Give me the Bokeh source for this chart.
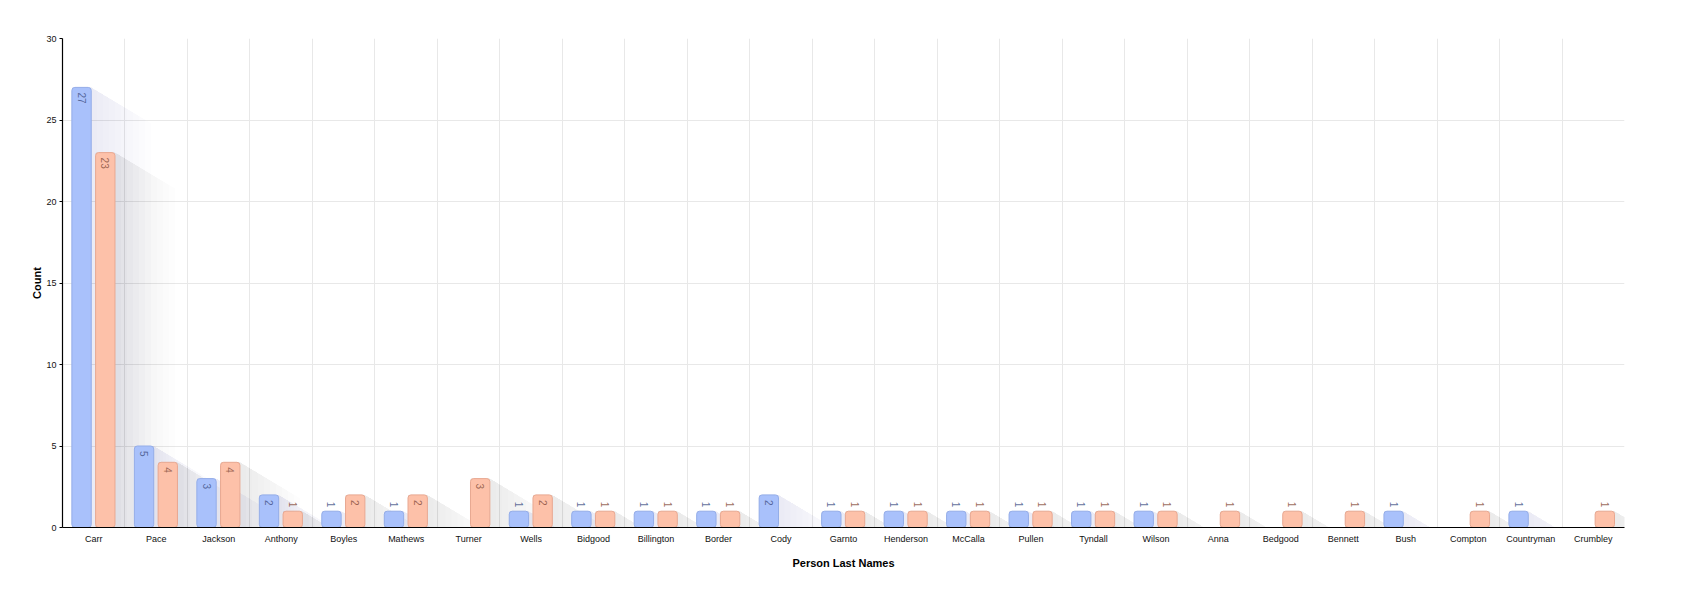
import numpy as np
from bokeh.plotting import figure
from bokeh.models import ColumnDataSource, FixedTicker, Range1d
from bokeh.core.properties import value
from bokeh.embed import file_html
from bokeh.resources import INLINE

names = ["Carr", "Pace", "Jackson", "Anthony", "Boyles", "Mathews", "Turner", "Wells",
         "Bidgood", "Billington", "Border", "Cody", "Garnto", "Henderson", "McCalla",
         "Pullen", "Tyndall", "Wilson", "Anna", "Bedgood", "Bennett", "Bush", "Compton",
         "Countryman", "Crumbley"]
series_blue = [27, 5, 3, 2, 1, 1, 0, 1, 1, 1, 1, 2, 1, 1, 1, 1, 1, 1, 0, 0, 0, 1, 0, 1, 0]
series_orange = [23, 4, 4, 1, 2, 2, 3, 2, 1, 1, 1, 0, 1, 1, 1, 1, 1, 1, 1, 1, 1, 0, 1, 0, 1]
y_ticks = [0, 5, 10, 15, 20, 25, 30]

FONT = "Liberation Sans"
FRAME_W, FRAME_H = 1562, 489
N = len(names)
Y_MAX = 30

p = figure(frame_width=FRAME_W, frame_height=FRAME_H,
           x_range=Range1d(0, N), y_range=Range1d(0, Y_MAX),
           output_backend="svg", toolbar_location=None,
           min_border_left=62, min_border_top=38, min_border_right=40, min_border_bottom=20)
p.outline_line_color = None
p.background_fill_color = "white"

# grids
p.xgrid.ticker = FixedTicker(ticks=list(range(N + 1)))
p.ygrid.ticker = FixedTicker(ticks=y_ticks)
p.xgrid.grid_line_color = "#e8e8e8"
p.ygrid.grid_line_color = "#e8e8e8"

# axes
centers = [i + 0.5 for i in range(N)]
p.xaxis.ticker = FixedTicker(ticks=centers)
p.xaxis.major_label_overrides = {c: n for c, n in zip(centers, names)}
p.xaxis.major_tick_out = 0
p.xaxis.major_tick_in = 0
p.xaxis.minor_tick_line_color = None
p.xaxis.major_label_standoff = 6
p.xaxis.axis_label = "Person Last Names"
p.xaxis.axis_label_standoff = 10
p.yaxis.ticker = FixedTicker(ticks=y_ticks)
p.yaxis.major_tick_out = 3
p.yaxis.major_tick_in = 0
p.yaxis.minor_tick_line_color = None
p.yaxis.major_label_standoff = 3
p.yaxis.axis_label = "Count"
p.yaxis.axis_label_standoff = 0
for ax in (p.xaxis[0], p.yaxis[0]):
    ax.axis_line_color = "black"
    ax.axis_line_width = 1.2
    ax.major_tick_line_color = "black"
    ax.major_label_text_font = FONT
    ax.major_label_text_font_size = "9px"
    ax.major_label_text_color = "#111111"
    ax.axis_label_text_font = FONT
    ax.axis_label_text_font_size = "11px"
    ax.axis_label_text_font_style = "bold"
    ax.axis_label_text_color = "black"

BAR_W = 0.31
OFF_BLUE, OFF_ORANGE = -0.195, 0.185
px_x = FRAME_W / N
px_y = FRAME_H / Y_MAX

series = [
    (series_blue, OFF_BLUE, "#a9c1fb", "#94ade8", "#46558a", "#4a5680"),
    (series_orange, OFF_ORANGE, "#fdc1a9", "#e8a891", "#8a5242", "#6e5046"),
]

# long shadows (layered for gradient)
LAYERS = 10
SH_LEN = 60.0  # px horizontally
SH_SLOPE = 0.6
for vals, off, fill, line, tcol, scol in series:
    xs_all, ys_all = [], []
    for k in range(1, LAYERS + 1):
        L = SH_LEN * k / LAYERS
        dx = L / px_x
        dy = L * SH_SLOPE / px_y
        for i, v in enumerate(vals):
            if v <= 0:
                continue
            x0 = i + 0.5 + off - BAR_W / 2
            x1 = i + 0.5 + off + BAR_W / 2
            xs_all.append([x0, x1, x1 + dx, x1 + dx, x0 + dx, x0])
            ys_all.append([v, v, v - dy, -dy, -dy, 0])
    p.patches(xs_all, ys_all, fill_color=scol, fill_alpha=0.011, line_color=None)

for vals, off, fill, line, tcol, scol in series:
    xs = [i + 0.5 + off for i, v in enumerate(vals) if v > 0]
    tops = [v for v in vals if v > 0]
    src = ColumnDataSource(dict(x=xs, top=tops, label=[str(v) for v in tops]))
    p.vbar(x="x", top="top", width=BAR_W, bottom=0, source=src,
           fill_color=fill, line_color=line, line_width=1, border_radius=3)
    inside = ColumnDataSource(dict(
        x=[x for x, t in zip(xs, tops) if t >= 2],
        y=[t for t in tops if t >= 2],
        label=[str(t) for t in tops if t >= 2]))
    outside = ColumnDataSource(dict(
        x=[x for x, t in zip(xs, tops) if t < 2],
        y=[t for t in tops if t < 2],
        label=[str(t) for t in tops if t < 2]))
    p.text(x="x", y="y", text="label", source=inside, angle=-np.pi / 2,
           text_align="left", text_baseline="middle", y_offset=5,
           text_font=value(FONT), text_font_size="10px", text_color=tcol, text_alpha=0.85)
    p.text(x="x", y="y", text="label", source=outside, angle=-np.pi / 2,
           text_align="right", text_baseline="middle", y_offset=-4,
           text_font=value(FONT), text_font_size="10px", text_color=tcol, text_alpha=0.85)

open("out.html", "w").write(file_html(p, INLINE))
